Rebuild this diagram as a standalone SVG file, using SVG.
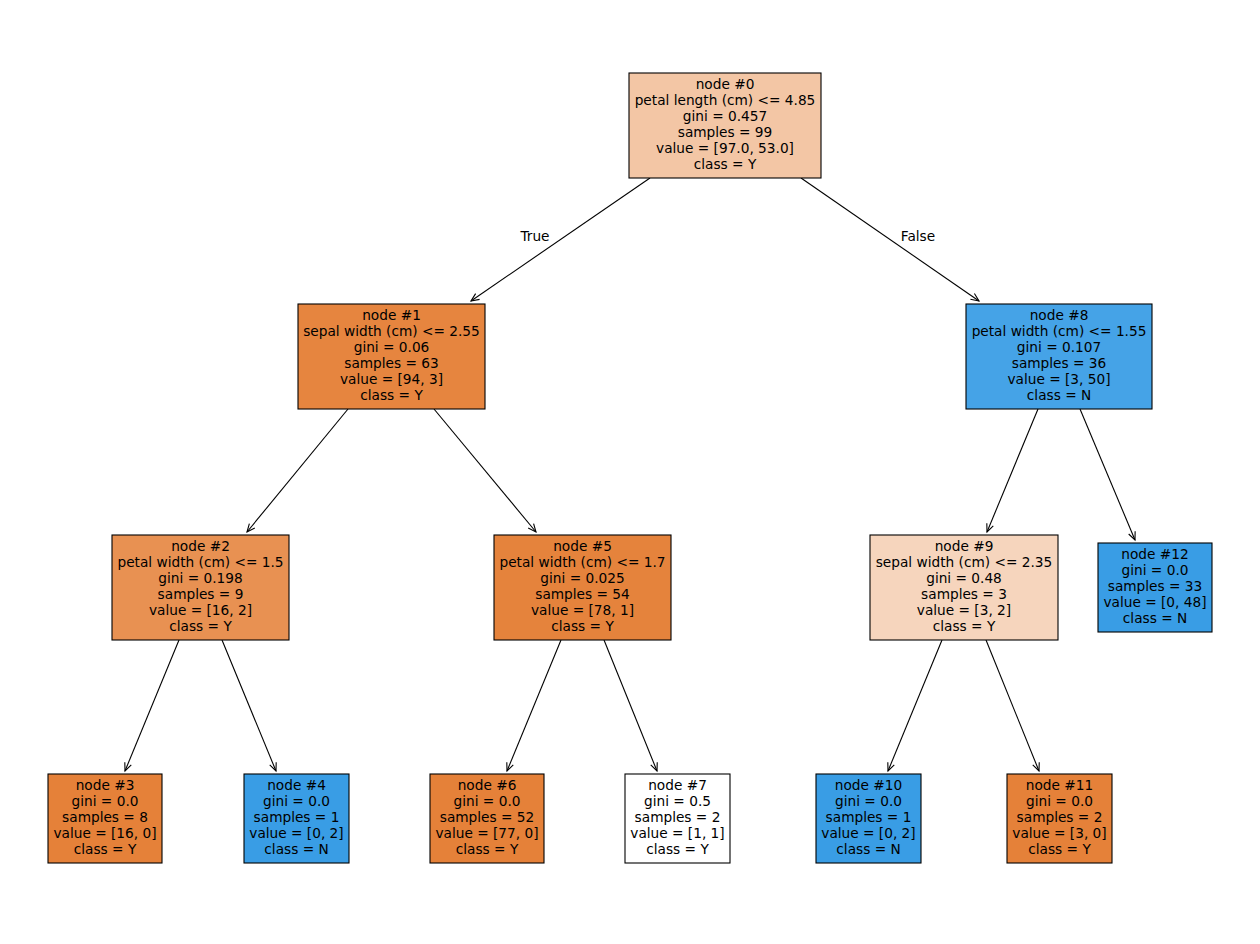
<svg xmlns="http://www.w3.org/2000/svg" width="1260" height="944" viewBox="0 0 1260 944">
<defs>
<style>
.box{stroke:#000;stroke-width:1.1}
.t{font-family:"DejaVu Sans","Liberation Sans",sans-serif;font-size:13.7px;fill:#000;text-anchor:middle}
.e{stroke:#000;stroke-width:1.1;fill:none;marker-end:url(#arr)}
</style>
<marker id="arr" markerUnits="userSpaceOnUse" markerWidth="12" markerHeight="12" viewBox="-10 -6 12 12" refX="0" refY="0" orient="auto">
<path d="M-8,-3.5 L0,0 L-8,3.5" fill="none" stroke="#000" stroke-width="1.1"/>
</marker>
</defs>
<rect width="1260" height="944" fill="#fff"/>
<g id="connectors">
<line class="e" x1="650" y1="178" x2="471" y2="301"/>
<line class="e" x1="801" y1="178" x2="979" y2="301"/>
<line class="e" x1="348" y1="409" x2="247" y2="532"/>
<line class="e" x1="434" y1="409" x2="536" y2="532"/>
<line class="e" x1="1038" y1="409" x2="987" y2="532"/>
<line class="e" x1="1080" y1="409" x2="1135" y2="540"/>
<line class="e" x1="179" y1="640" x2="125" y2="771"/>
<line class="e" x1="222" y1="640" x2="276" y2="771"/>
<line class="e" x1="561" y1="640" x2="507" y2="771"/>
<line class="e" x1="604" y1="640" x2="657" y2="771"/>
<line class="e" x1="942" y1="640" x2="888" y2="771"/>
<line class="e" x1="986" y1="640" x2="1039" y2="771"/>
<text class="t" x="535" y="241">True</text>
<text class="t" x="918" y="241">False</text>
</g>
<g id="node0">
<rect class="box" x="629" y="73" width="192" height="105" fill="#f3c6a5"/>
<text class="t" x="725" y="89">node #0<tspan x="725" dy="16">petal length (cm) &lt;= 4.85</tspan><tspan x="725" dy="16">gini = 0.457</tspan><tspan x="725" dy="16">samples = 99</tspan><tspan x="725" dy="16">value = [97.0, 53.0]</tspan><tspan x="725" dy="16">class = Y</tspan></text>
</g>
<g id="node1">
<rect class="box" x="298" y="304" width="187" height="105" fill="#e6853f"/>
<text class="t" x="391.5" y="320">node #1<tspan x="391.5" dy="16">sepal width (cm) &lt;= 2.55</tspan><tspan x="391.5" dy="16">gini = 0.06</tspan><tspan x="391.5" dy="16">samples = 63</tspan><tspan x="391.5" dy="16">value = [94, 3]</tspan><tspan x="391.5" dy="16">class = Y</tspan></text>
</g>
<g id="node8">
<rect class="box" x="966" y="304" width="186" height="105" fill="#45a3e7"/>
<text class="t" x="1059" y="320">node #8<tspan x="1059" dy="16">petal width (cm) &lt;= 1.55</tspan><tspan x="1059" dy="16">gini = 0.107</tspan><tspan x="1059" dy="16">samples = 36</tspan><tspan x="1059" dy="16">value = [3, 50]</tspan><tspan x="1059" dy="16">class = N</tspan></text>
</g>
<g id="node2">
<rect class="box" x="112" y="535" width="177" height="105" fill="#e89152"/>
<text class="t" x="200.5" y="551">node #2<tspan x="200.5" dy="16">petal width (cm) &lt;= 1.5</tspan><tspan x="200.5" dy="16">gini = 0.198</tspan><tspan x="200.5" dy="16">samples = 9</tspan><tspan x="200.5" dy="16">value = [16, 2]</tspan><tspan x="200.5" dy="16">class = Y</tspan></text>
</g>
<g id="node5">
<rect class="box" x="494" y="535" width="177" height="105" fill="#e5833c"/>
<text class="t" x="582.5" y="551">node #5<tspan x="582.5" dy="16">petal width (cm) &lt;= 1.7</tspan><tspan x="582.5" dy="16">gini = 0.025</tspan><tspan x="582.5" dy="16">samples = 54</tspan><tspan x="582.5" dy="16">value = [78, 1]</tspan><tspan x="582.5" dy="16">class = Y</tspan></text>
</g>
<g id="node9">
<rect class="box" x="870" y="535" width="188" height="105" fill="#f6d5bd"/>
<text class="t" x="964" y="551">node #9<tspan x="964" dy="16">sepal width (cm) &lt;= 2.35</tspan><tspan x="964" dy="16">gini = 0.48</tspan><tspan x="964" dy="16">samples = 3</tspan><tspan x="964" dy="16">value = [3, 2]</tspan><tspan x="964" dy="16">class = Y</tspan></text>
</g>
<g id="node12">
<rect class="box" x="1098" y="543" width="114" height="89" fill="#399de5"/>
<text class="t" x="1155" y="559">node #12<tspan x="1155" dy="16">gini = 0.0</tspan><tspan x="1155" dy="16">samples = 33</tspan><tspan x="1155" dy="16">value = [0, 48]</tspan><tspan x="1155" dy="16">class = N</tspan></text>
</g>
<g id="node3">
<rect class="box" x="48" y="774" width="114" height="89" fill="#e58139"/>
<text class="t" x="105" y="790">node #3<tspan x="105" dy="16">gini = 0.0</tspan><tspan x="105" dy="16">samples = 8</tspan><tspan x="105" dy="16">value = [16, 0]</tspan><tspan x="105" dy="16">class = Y</tspan></text>
</g>
<g id="node4">
<rect class="box" x="244" y="774" width="105" height="89" fill="#399de5"/>
<text class="t" x="296.5" y="790">node #4<tspan x="296.5" dy="16">gini = 0.0</tspan><tspan x="296.5" dy="16">samples = 1</tspan><tspan x="296.5" dy="16">value = [0, 2]</tspan><tspan x="296.5" dy="16">class = N</tspan></text>
</g>
<g id="node6">
<rect class="box" x="430" y="774" width="114" height="89" fill="#e58139"/>
<text class="t" x="487" y="790">node #6<tspan x="487" dy="16">gini = 0.0</tspan><tspan x="487" dy="16">samples = 52</tspan><tspan x="487" dy="16">value = [77, 0]</tspan><tspan x="487" dy="16">class = Y</tspan></text>
</g>
<g id="node7">
<rect class="box" x="625" y="774" width="105" height="89" fill="#ffffff"/>
<text class="t" x="677.5" y="790">node #7<tspan x="677.5" dy="16">gini = 0.5</tspan><tspan x="677.5" dy="16">samples = 2</tspan><tspan x="677.5" dy="16">value = [1, 1]</tspan><tspan x="677.5" dy="16">class = Y</tspan></text>
</g>
<g id="node10">
<rect class="box" x="816" y="774" width="105" height="89" fill="#399de5"/>
<text class="t" x="868.5" y="790">node #10<tspan x="868.5" dy="16">gini = 0.0</tspan><tspan x="868.5" dy="16">samples = 1</tspan><tspan x="868.5" dy="16">value = [0, 2]</tspan><tspan x="868.5" dy="16">class = N</tspan></text>
</g>
<g id="node11">
<rect class="box" x="1007" y="774" width="105" height="89" fill="#e58139"/>
<text class="t" x="1059.5" y="790">node #11<tspan x="1059.5" dy="16">gini = 0.0</tspan><tspan x="1059.5" dy="16">samples = 2</tspan><tspan x="1059.5" dy="16">value = [3, 0]</tspan><tspan x="1059.5" dy="16">class = Y</tspan></text>
</g>
</svg>
